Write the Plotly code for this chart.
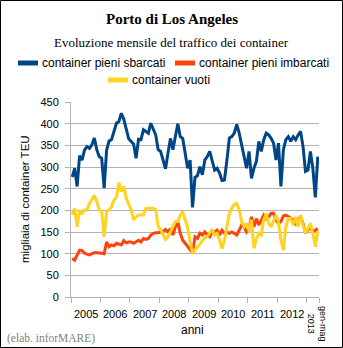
import plotly.graph_objects as go

# Monthly container traffic, Port of Los Angeles, Jan 2005 - May 2013 (thousand TEU)
sbarcati = [277, 297, 255, 326, 316, 339, 347, 343, 351, 367, 340, 324,
            320, 251, 339, 360, 363, 380, 401, 405, 424, 410, 386, 365,
            359, 353, 320, 364, 363, 386, 382, 378, 401, 386, 374, 340,
            336, 316, 296, 332, 366, 340, 370, 400, 370, 366, 332, 297,
            316, 207, 276, 280, 301, 282, 316, 324, 336, 316, 293, 297,
            286, 269, 270, 316, 367, 370, 378, 398, 378, 351, 324, 297,
            336, 274, 297, 313, 359, 336, 363, 378, 374, 366, 355, 316,
            355, 255, 340, 363, 370, 359, 370, 363, 374, 382, 347, 290,
            293, 336, 297, 230, 324]
imbarcati = [89, 85, 97, 108, 107, 101, 99, 97, 100, 102, 102, 102,
             101, 100, 127, 116, 120, 118, 124, 122, 120, 130, 125, 127,
             127, 124, 128, 131, 127, 135, 133, 135, 143, 147, 148, 148,
             150, 152, 156, 150, 158, 143, 162, 174, 147, 131, 124, 116,
             108, 102, 139, 135, 147, 143, 150, 143, 139, 150, 150, 154,
             143, 154, 147, 150, 147, 150, 147, 143, 154, 166, 162, 150,
             158, 185, 162, 181, 166, 178, 189, 181, 185, 193, 193, 178,
             170, 174, 187, 189, 185, 182, 178, 166, 178, 185, 170, 147,
             154, 162, 150, 154, 158]
vuoti = [190, 205, 162, 197, 193, 201, 201, 216, 225, 235, 220, 201,
         197, 139, 197, 201, 208, 224, 230, 264, 243, 255, 228, 215,
         201, 178, 185, 189, 189, 189, 205, 205, 205, 205, 201, 163,
         155, 145, 133, 139, 150, 160, 174, 174, 189, 197, 181, 160,
         130, 100, 108, 116, 123, 131, 137, 140, 147, 156, 143, 147,
         131, 112, 131, 162, 193, 205, 214, 216, 201, 174, 162, 170,
         150, 178, 112, 135, 147, 143, 178, 193, 170, 162, 178, 189,
         174, 131, 108, 162, 181, 181, 166, 185, 162, 189, 166, 147,
         158, 170, 147, 116, 152]

year_labels = ["2005", "2006", "2007", "2008", "2009", "2010", "2011", "2012"]
last_label = "gen-mag<br>2013"
series_names = ["container pieni sbarcati", "container pieni imbarcati", "container vuoti"]
colors = ["#004586", "#ff420e", "#ffd320"]

months = list(range(len(sbarcati)))
n = len(months)

W, H = 343, 348
L, R, T, B = 71, 24, 102, 51
PW, PH = W - L - R, H - T - B


def px(x):
    return (x - L) / PW


def py(y):
    return (H - B - y) / PH


fig = go.Figure()
for name, vals, col in zip(series_names, [sbarcati, imbarcati, vuoti], colors):
    fig.add_trace(go.Scatter(x=months, y=vals, mode="lines", name=name,
                             line=dict(color=col, width=3), showlegend=False))

# category boundaries: one tick between years, the last block is Jan-May 2013
bounds = [-0.5 + 12 * k for k in range(9)] + [n - 0.5]
label_pos = [5.5 + 12 * k for k in range(8)]

grid = "#b3b3b3"
fig.update_xaxes(range=[-0.5, n - 0.5], showgrid=False, zeroline=False,
                 showline=True, linecolor=grid, linewidth=1,
                 tickvals=bounds, ticktext=[""] * len(bounds),
                 ticks="outside", ticklen=5, tickcolor=grid)
fig.update_yaxes(range=[0, 450], dtick=50, showgrid=True, gridcolor=grid,
                 gridwidth=1, zeroline=False, showline=True, linecolor=grid,
                 ticks="outside", ticklen=5, tickcolor=grid,
                 ticklabelstandoff=4,
                 tickfont=dict(family="Liberation Sans", size=11, color="#000"))

sans = "Liberation Sans"
serif = "Liberation Serif"
ann = []
for lab, xp in zip(year_labels, label_pos):
    ann.append(dict(x=xp, y=0, xref="x", yref="paper", text=lab, showarrow=False,
                    xanchor="center", yanchor="top", yshift=-9,
                    font=dict(family=sans, size=11, color="#000")))

ann += [
    dict(x=px(317), y=py(304), text=last_label, textangle=90,
         xanchor="center", yanchor="top",
         font=dict(family=sans, size=9, color="#000")),
    dict(x=px(171.5), y=py(19), text="<b>Porto di Los Angeles</b>",
         xanchor="center", yanchor="middle",
         font=dict(family=serif, size=15, color="#000")),
    dict(x=px(171.5), y=py(43), text="Evoluzione mensile del traffico dei container",
         xanchor="center", yanchor="middle",
         font=dict(family=serif, size=13, color="#000")),
    dict(x=px(25), y=py(199), text="migliaia di container TEU", textangle=-90,
         xanchor="center", yanchor="middle",
         font=dict(family=sans, size=11.5, color="#000")),
    dict(x=px(192), y=py(330), text="anni",
         xanchor="center", yanchor="middle",
         font=dict(family=sans, size=12, color="#000")),
    dict(x=px(5), y=py(338), text="(elab. inforMARE)",
         xanchor="left", yanchor="middle",
         font=dict(family=serif, size=11.5, color="#7f7f7f")),
]
for a in ann[len(year_labels):]:
    a.update(xref="paper", yref="paper", showarrow=False)

# legend drawn as swatches plus labels
shapes = []
legend_items = [(18, 63, 0), (175, 63, 1), (108, 80, 2)]
for x0, yc, k in legend_items:
    shapes.append(dict(type="line", xref="paper", yref="paper",
                       x0=px(x0), x1=px(x0 + 20), y0=py(yc), y1=py(yc),
                       line=dict(color=colors[k], width=5)))
    ann.append(dict(x=px(x0 + 22), y=py(yc), xref="paper", yref="paper",
                    text=series_names[k], showarrow=False,
                    xanchor="left", yanchor="middle",
                    font=dict(family=sans, size=12, color="#000")))

# outer frame
shapes.append(dict(type="rect", xref="paper", yref="paper",
                   x0=px(0.5), x1=px(342.5), y0=py(0.5), y1=py(347.5),
                   line=dict(color="#000", width=1), layer="above"))

fig.update_layout(width=W, height=H, margin=dict(l=L, r=R, t=T, b=B),
                  paper_bgcolor="white", plot_bgcolor="white",
                  annotations=ann, shapes=shapes, showlegend=False)

fig.write_html("out.html", config={"displayModeBar": False})
